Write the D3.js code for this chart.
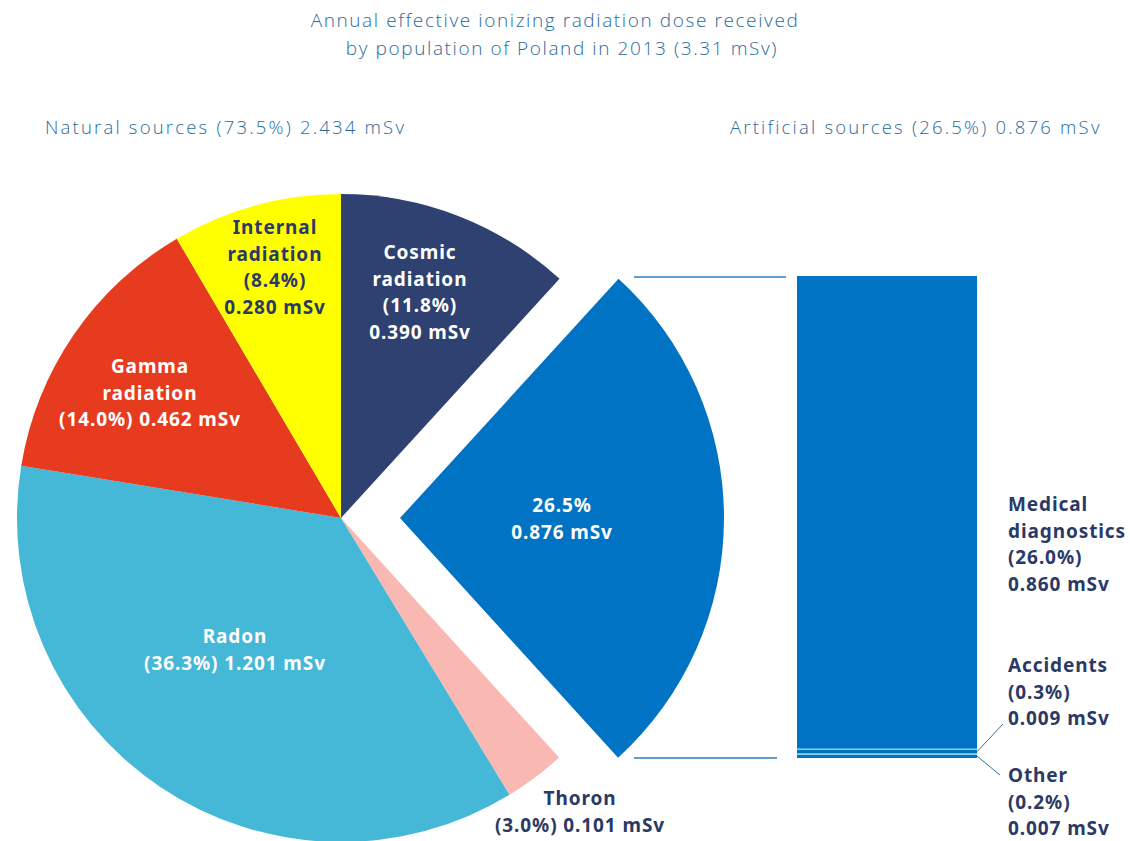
<!DOCTYPE html>
<html>
<head>
<meta charset="utf-8">
<script src="https://cdn.jsdelivr.net/npm/d3@7"></script>
<style>
  html, body { margin: 0; padding: 0; background: #ffffff; }
  svg { display: block; }
  .light { font-family: "Open Sans", "Noto Sans", sans-serif; font-weight: 300; }
  .bold { font-family: "Noto Sans", "Open Sans", sans-serif; font-weight: 700; letter-spacing: 0.9px; }
</style>
</head>
<body>
<svg id="chart" width="1130" height="841"></svg>
<script>
// Dose components (mSv), in pie order clockwise from 12 o'clock
const sliceNames = ["Cosmic radiation", "Artificial", "Thoron", "Radon", "Gamma radiation", "Internal radiation"];
const sliceValues = [0.390, 0.876, 0.101, 1.201, 0.462, 0.280];
const slicePercents = ["11.8%", "26.5%", "3.0%", "36.3%", "14.0%", "8.4%"];
const sliceColors = ["#2f4170", "#0073c4", "#f9b9b2", "#45b7d7", "#e73b1f", "#ffff00"];

// Breakdown of the artificial part, from bottom to top of the bar
const artificialNames = ["Other", "Accidents", "Medical diagnostics"];
const artificialValues = [0.007, 0.009, 0.860];
const artificialPercents = ["0.2%", "0.3%", "26.0%"];

const titleLines = ["Annual effective ionizing radiation dose received", "by population of Poland in 2013 (3.31 mSv)"];
const naturalHeader = "Natural sources (73.5%) 2.434 mSv";
const artificialHeader = "Artificial sources (26.5%) 0.876 mSv";

const svg = d3.select("#chart");
const navy = "#2b3966";
const titleColor = "#2a6b9c";

// Title and section headers
svg.append("text").attr("class", "light")
  .attr("x", 555).attr("y", 27).attr("text-anchor", "middle")
  .attr("font-size", 19).attr("letter-spacing", 1.6).attr("fill", titleColor).text(titleLines[0]);
svg.append("text").attr("class", "light")
  .attr("x", 562).attr("y", 55).attr("text-anchor", "middle")
  .attr("font-size", 19).attr("letter-spacing", 1.6).attr("fill", titleColor).text(titleLines[1]);
svg.append("text").attr("class", "light")
  .attr("x", 45).attr("y", 134).attr("font-size", 18.5).attr("letter-spacing", 2.2)
  .attr("fill", titleColor).text(naturalHeader);
svg.append("text").attr("class", "light")
  .attr("x", 730).attr("y", 134).attr("font-size", 18.5).attr("letter-spacing", 2.2)
  .attr("fill", titleColor).text(artificialHeader);

// Pie
const cx = 341, cy = 518, radius = 324, explode = 59;
const pie = d3.pie().sort(null).value(d => d)(sliceValues);
const arc = d3.arc().innerRadius(0).outerRadius(radius);

const g = svg.append("g").attr("transform", `translate(${cx},${cy})`);
g.selectAll("path.slice").data(pie).join("path")
  .attr("class", "slice")
  .attr("fill", (d, i) => sliceColors[i])
  .attr("transform", (d, i) => {
    if (i !== 1) return null;
    const mid = (d.startAngle + d.endAngle) / 2;
    return `translate(${explode * Math.sin(mid)},${-explode * Math.cos(mid)})`;
  })
  .attr("d", arc);

// Slice labels: [slice index, lines, x, first line y, colour]
const lineH = 26.5;
const fontSize = 19;
const sliceLabels = [
  [0, ["Cosmic", "radiation", `(${slicePercents[0]})`, `${sliceValues[0].toFixed(3)} mSv`], 420, 259, "#ffffff"],
  [5, ["Internal", "radiation", `(${slicePercents[5]})`, `${sliceValues[5].toFixed(3)} mSv`], 275, 234, navy],
  [4, ["Gamma", "radiation", `(${slicePercents[4]}) ${sliceValues[4].toFixed(3)} mSv`], 150, 373, "#ffffff"],
  [3, ["Radon", `(${slicePercents[3]}) ${sliceValues[3].toFixed(3)} mSv`], 235, 643, "#ffffff"],
  [2, ["Thoron", `(${slicePercents[2]}) ${sliceValues[2].toFixed(3)} mSv`], 580, 805, navy],
  [1, [slicePercents[1], `${sliceValues[1].toFixed(3)} mSv`], 562, 512, "#ffffff"]
];
sliceLabels.forEach(([idx, lines, x, y0, col]) => {
  const t = svg.append("text").attr("class", "bold")
    .attr("text-anchor", "middle").attr("font-size", fontSize).attr("fill", col);
  lines.forEach((ln, k) => {
    t.append("tspan").attr("x", x).attr("y", y0 + k * lineH).text(ln);
  });
});

// Stacked bar for the artificial sources
const barX = 797, barW = 180;
const barTotal = d3.sum(artificialValues);
const y = d3.scaleLinear().domain([0, barTotal]).range([758, 276]);
const stackTops = d3.cumsum(artificialValues);
const stackBottoms = stackTops.map((v, i) => v - artificialValues[i]);

svg.selectAll("rect.seg").data(artificialValues).join("rect")
  .attr("class", "seg")
  .attr("x", barX).attr("width", barW)
  .attr("y", (d, i) => y(stackTops[i]))
  .attr("height", (d, i) => y(stackBottoms[i]) - y(stackTops[i]))
  .attr("fill", "#0073c4");

// Thin separators between stacked segments
svg.selectAll("line.sep").data(stackTops.slice(0, -1)).join("line")
  .attr("class", "sep")
  .attr("x1", barX).attr("x2", barX + barW)
  .attr("y1", d => y(d)).attr("y2", d => y(d))
  .attr("stroke", "#8fd0ee").attr("stroke-width", 1.6);

// Connector lines from the exploded slice to the bar
const blue = pie[1];
[blue.startAngle, blue.endAngle].forEach((a, k) => {
  const yy = k === 0 ? y(barTotal) + 1 : y(0);
  svg.append("line")
    .attr("x1", 634).attr("x2", k === 0 ? 786 : 777)
    .attr("y1", yy).attr("y2", yy)
    .attr("stroke", "#2e7fb8").attr("stroke-width", 1.5);
});

// Labels for the bar segments
const barLabels = [
  [2, ["Medical", "diagnostics", `(${artificialPercents[2]})`, `${artificialValues[2].toFixed(3)} mSv`], 511],
  [1, ["Accidents", `(${artificialPercents[1]})`, `${artificialValues[1].toFixed(3)} mSv`], 672],
  [0, ["Other", `(${artificialPercents[0]})`, `${artificialValues[0].toFixed(3)} mSv`], 782]
];
barLabels.forEach(([idx, lines, y0]) => {
  const t = svg.append("text").attr("class", "bold")
    .attr("font-size", fontSize).attr("fill", navy);
  lines.forEach((ln, k) => {
    t.append("tspan").attr("x", 1008).attr("y", y0 + k * lineH).text(ln);
  });
});

// Leader lines for the two thin segments
const leaders = [
  [1, 1003, 724],
  [0, 1000, 775]
];
leaders.forEach(([i, x2, y2]) => {
  const mid = y((stackTops[i] + stackBottoms[i]) / 2);
  svg.append("line")
    .attr("x1", barX + barW).attr("y1", mid)
    .attr("x2", x2).attr("y2", y2)
    .attr("stroke", "#3a6f96").attr("stroke-width", 1);
});
</script>
</body>
</html>
